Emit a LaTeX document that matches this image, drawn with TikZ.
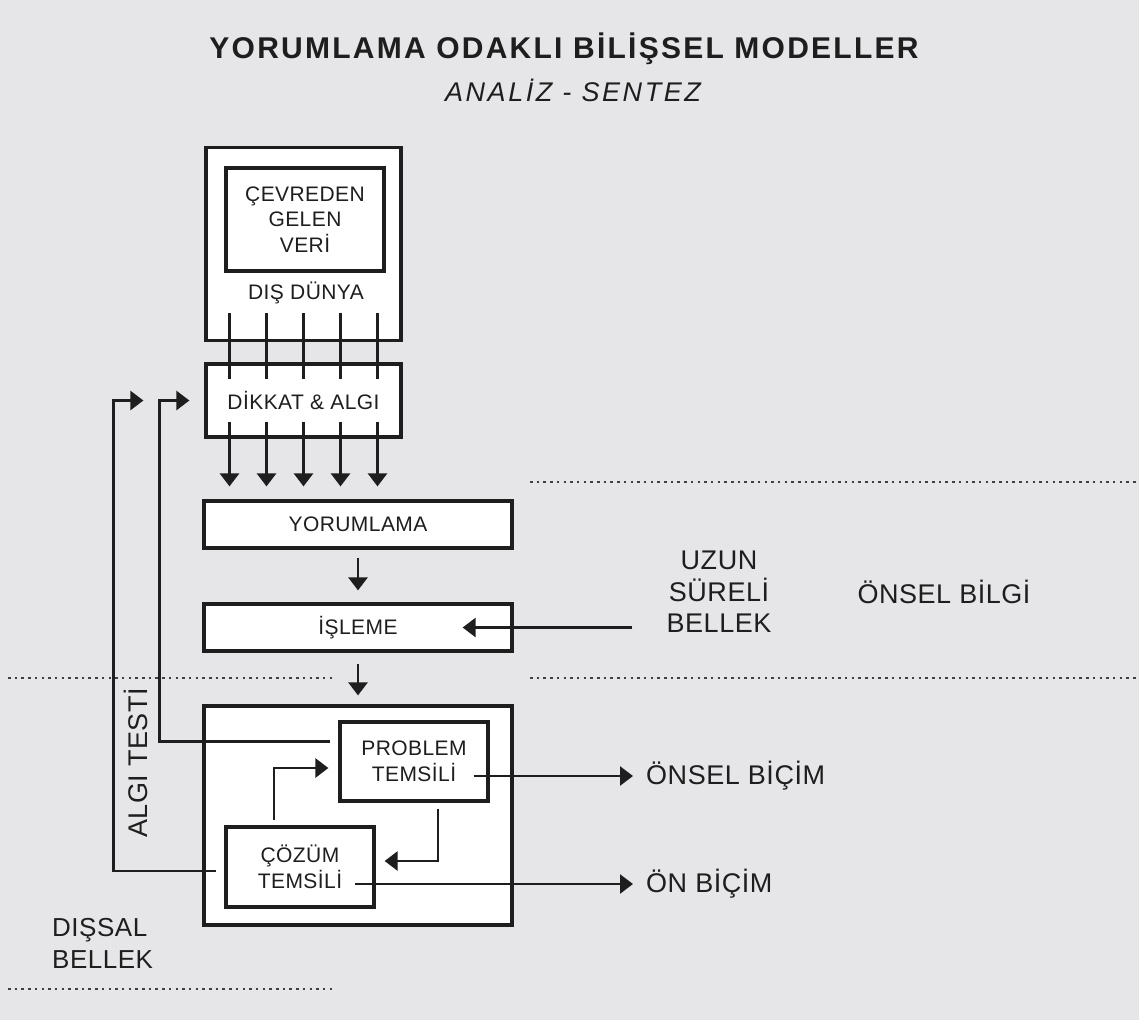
\documentclass[tikz,border=0pt]{standalone}
\usepackage{fontspec}
\setmainfont{Liberation Sans}[LetterSpace=2]
\newfontfamily\baslikfont{Liberation Sans}[LetterSpace=7.5]
\newfontfamily\altbaslikfont{Liberation Sans}[LetterSpace=9.5]
\usetikzlibrary{arrows.meta,positioning,calc}
\definecolor{ink}{HTML}{1E1E1E}
\definecolor{paper}{HTML}{E6E6E8}

\begin{document}
\begin{tikzpicture}[
  x=1pt, y=-1pt,
  kutu/.style={draw=ink, line width=3.2pt, fill=white, inner sep=0pt,
    align=center, text=ink, font=\fontsize{21}{25.5}\selectfont},
  etiket/.style={inner sep=0pt, align=center, text=ink,
    font=\fontsize{27}{31.5}\selectfont},
  akis/.style={-{Triangle[length=13pt,width=19pt]}, line width=2.6pt, draw=ink},
  besleme/.style={line width=2.6pt, draw=ink},
  noktali/.style={line width=2.5pt, draw=ink!85, dash pattern=on 2.5pt off 4.2pt}
]
\fill[paper] (0,0) rectangle (1139,1020);
\useasboundingbox (0,0) rectangle (1139,1020);

% bellek sinirlari
\draw[noktali] (530,482) -- (1139,482);
\draw[noktali] (8,678) -- (333,678);
\draw[noktali] (530,678) -- (1139,678);
\draw[noktali] (8,989) -- (333,989);

\node[text=ink, font=\baslikfont\bfseries\fontsize{30}{36}\selectfont] (baslik) at (564,49)
  {YORUMLAMA ODAKLI BİLİŞSEL MODELLER};
\node[text=ink, font=\altbaslikfont\itshape\fontsize{27}{32}\selectfont] (altbaslik) at (573,90.5)
  {ANALİZ - SENTEZ};

\node[kutu, minimum width=195pt, minimum height=193pt] (dunya) at (303.5,244) {};
\node[kutu, minimum width=158pt, minimum height=103pt] (veri) at (305,219.5) {ÇEVREDEN\\GELEN\\VERİ};
\node[inner sep=0pt, text=ink, font=\fontsize{21}{25}\selectfont] (dis) at (306,293) {DIŞ DÜNYA};
\node[kutu, minimum width=195pt, minimum height=73pt] (dikkat) at (303.5,400.5) {DİKKAT \& ALGI};
\node[kutu, minimum width=308pt, minimum height=47pt] (yorum) at (358,524.5) {YORUMLAMA};
\node[kutu, minimum width=308pt, minimum height=47pt] (isleme) at (358,627.5) {İŞLEME};
\node[kutu, minimum width=308pt, minimum height=219pt] (temsil) at (358,815.5) {};
\node[kutu, minimum width=148pt, minimum height=79pt] (problem) at (414,761.5) {PROBLEM\\TEMSİLİ};
\node[kutu, minimum width=148pt, minimum height=80pt] (cozum) at (300,867) {ÇÖZÜM\\TEMSİLİ};

\node[etiket] (bellek) at (719,592) {UZUN\\SÜRELİ\\BELLEK};
\node[etiket] (bilgi) at (944,592) {ÖNSEL BİLGİ};
\node[etiket, anchor=west] (onselbicim) at (646,776) {ÖNSEL BİÇİM};
\node[etiket, anchor=west] (onbicim) at (646,884) {ÖN BİÇİM};
\node[etiket, anchor=west, align=left, font=\fontsize{26}{32}\selectfont] (dissal) at (52,943) {DIŞSAL\\BELLEK};
\node[etiket, rotate=90] (algi) at (136,763) {ALGI TESTİ};

% dis dunyadan gelen kanallar
\foreach \dx in {-74,-37,0,37,74} {
  \draw[besleme] ($(dunya.south)+(\dx pt,29pt)$) -- ($(dikkat.north)+(\dx pt,-17pt)$);
  \draw[akis] ($(dikkat.south)+(\dx pt,17pt)$) -- ($(dikkat.south |- yorum.north)+(\dx pt,13pt)$);
}
\draw[akis, shorten <=8pt, shorten >=12pt] (yorum) -- (isleme);
\draw[akis, shorten <=11pt, shorten >=9pt] (isleme) -- (temsil);
\draw[akis] ($(bellek.west |- isleme)+(-34pt,0)$) -- ($(isleme.east)+(-51pt,0)$);

% algi testi donguleri
\draw[akis] ($(cozum.west)+(-8pt,-4pt)$) -| ($(dikkat.west)+(-91pt,0)$) -- ($(dikkat.west)+(-61pt,0)$);
\draw[akis] ($(problem.west)+(-8pt,20pt)$) -| ($(dikkat.west)+(-45pt,0)$) -- ($(dikkat.west)+(-15pt,0)$);

\draw[akis] ($(cozum.north)+(-26pt,5pt)$) |- ($(problem.west)+(-10pt,-6.5pt)$);
\draw[akis] ($(problem.south)+(24pt,-6pt)$) |- ($(cozum.east)+(9pt,6pt)$);
\draw[akis] ($(problem.east |- onselbicim.west)+(-16pt,0)$) -- ($(onselbicim.west)+(-13pt,0)$);
\draw[akis] ($(cozum.east |- onbicim.west)+(-21pt,0)$) -- ($(onbicim.west)+(-13pt,0)$);
\end{tikzpicture}
\end{document}
